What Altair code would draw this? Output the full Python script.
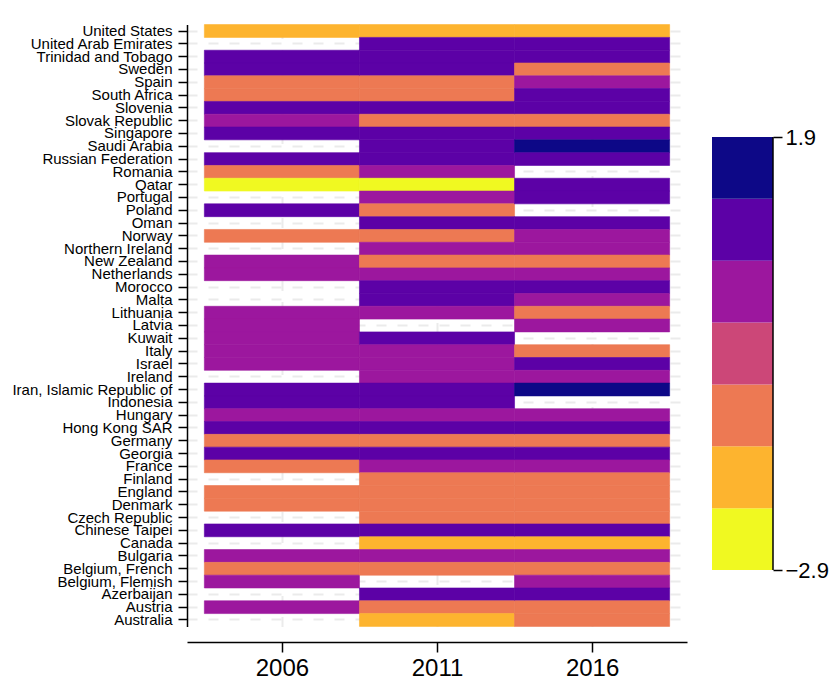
import altair as alt
import pandas as pd

# ---------------- data (top-to-bottom order) ----------------
countries = [
    "United States", "United Arab Emirates", "Trinidad and Tobago", "Sweden",
    "Spain", "South Africa", "Slovenia", "Slovak Republic", "Singapore",
    "Saudi Arabia", "Russian Federation", "Romania\u00a0", "Qatar", "Portugal",
    "Poland", "Oman", "Norway", "Northern Ireland", "New Zealand", "Netherlands",
    "Morocco", "Malta", "Lithuania", "Latvia", "Kuwait", "Italy", "Israel",
    "Ireland", "Iran, Islamic Republic of", "Indonesia", "Hungary",
    "Hong Kong SAR", "Germany", "Georgia", "France", "Finland", "England",
    "Denmark", "Czech Republic", "Chinese Taipei", "Canada", "Bulgaria",
    "Belgium, French", "Belgium, Flemish", "Azerbaijan", "Austria", "Australia",
]
years = [2006, 2011, 2016]

v2006 = [-1.9, None, 0.9, 0.9, -1.2, -1.2, 0.9, 0.2, 0.9, None, 0.9, -1.2,
         -2.9, None, 0.9, None, -1.2, None, 0.2, 0.2, None, None, 0.2, 0.2,
         0.2, 0.2, 0.2, None, 0.9, 0.9, 0.2, 0.9, -1.2, 0.9, -1.2, None, -1.2,
         -1.2, None, 0.9, None, 0.2, -1.2, 0.2, None, 0.2, None]
v2011 = [-1.9, 0.9, 0.9, 0.9, -1.2, -1.2, 0.9, -1.2, 0.9, 0.9, 0.9, 0.2,
         -2.5, 0.2, -1.2, 0.9, -1.2, 0.2, -1.2, 0.2, 0.9, 0.9, 0.2, None,
         0.9, 0.2, 0.2, 0.2, 0.9, 0.9, 0.2, 0.9, -1.2, 0.9, 0.2, -1.2, -1.2,
         -1.2, -1.2, 0.9, -1.9, 0.2, -1.2, None, 0.9, -1.2, -1.9]
v2016 = [-1.9, 0.9, 0.9, -1.2, 0.2, 0.9, 0.9, -1.2, 0.9, 1.6, 0.9, None,
         0.9, 0.9, None, 0.9, 0.2, 0.2, -1.2, 0.2, 0.9, 0.2, -1.2, 0.2,
         None, -1.2, 0.9, 0.2, 1.9, None, 0.2, 0.9, -1.2, 0.9, 0.2, -1.2, -1.2,
         -1.2, -1.2, 0.9, -1.9, 0.2, -1.2, 0.2, 0.9, -1.2, -1.2]

color_min, color_max = -2.9, 1.9
color_ticks = [-2.9, 1.9]
plasma7 = ["#f0f921", "#fdb42f", "#ed7953", "#cc4778", "#9c179e", "#5c01a6", "#0d0887"]

rows = []
for yr, vals in zip(years, [v2006, v2011, v2016]):
    for c, v in zip(countries, vals):
        if v is not None:
            rows.append({"country": c, "year": yr, "value": v})
df = pd.DataFrame(rows)

FONT = "Liberation Sans"
H = 633

color_scale = alt.Scale(type="quantize", domain=[color_min, color_max],
                        range=plasma7, nice=False, zero=False)

heat = (
    alt.Chart(df)
    .transform_calculate(x0="datum.year - 2.5", x1="datum.year + 2.5")
    .mark_rect(strokeWidth=0.6)
    .encode(
        x=alt.X("x0:Q",
                scale=alt.Scale(domain=[2002.94, 2019.06], nice=False, zero=False),
                axis=alt.Axis(values=years, format="d", title=None, labelFontSize=24,
                              tickSize=10, labelPadding=4, grid=True, zindex=0)),
        x2="x1:Q",
        y=alt.Y("country:N", sort=countries,
                scale=alt.Scale(paddingInner=0, paddingOuter=0, range=[15.6, 617.39]),
                axis=alt.Axis(title=None, labelFontSize=15, tickSize=9,
                              labelPadding=6, grid=True, zindex=0)),
        color=alt.Color("value:Q", scale=color_scale, legend=None),
        stroke=alt.Stroke("value:Q", scale=color_scale, legend=None),
    )
    .properties(width=500, height=H)
)

# ---------------- colour bar ----------------
nb = len(plasma7)
edges = [color_min + (color_max - color_min) * k / nb for k in range(nb + 1)]
leg_df = pd.DataFrame({"lo": edges[:-1], "hi": edges[1:]})
leg_df["mid"] = (leg_df["lo"] + leg_df["hi"]) / 2

leg_y = alt.Scale(domain=[-3.698, 3.319], nice=False, zero=False)

bar = alt.Chart(leg_df).mark_rect().encode(
    x=alt.value(0),
    x2=alt.value("width"),
    y=alt.Y("lo:Q", scale=leg_y,
            axis=alt.Axis(orient="right", values=color_ticks, format=".1f",
                          title=None, domain=False, grid=False, tickSize=9,
                          labelFontSize=22, labelPadding=3)),
    y2="hi:Q",
    color=alt.Color("mid:Q", scale=color_scale, legend=None),
)
spine = alt.Chart(pd.DataFrame({"lo": [color_min], "hi": [color_max]})).mark_rule(
    color="black", strokeWidth=1.5
).encode(x=alt.value("width"), y=alt.Y("lo:Q", scale=leg_y), y2="hi:Q")

legend = alt.layer(bar, spine).properties(width=61, height=H)

chart = (
    alt.hconcat(heat, legend, spacing=25)
    .properties(padding={"left": 3, "top": 1, "right": 0, "bottom": 0})
    .configure_view(strokeWidth=0)
    .configure_axis(
        gridColor="#ebebeb", gridWidth=2, gridDash=[10, 11],
        domainColor="black", tickColor="black", domainWidth=1.5, tickWidth=1.5,
        labelColor="black", labelFont=FONT,
    )
)

chart.save("out.html", embed_options={"renderer": "svg", "actions": False})
